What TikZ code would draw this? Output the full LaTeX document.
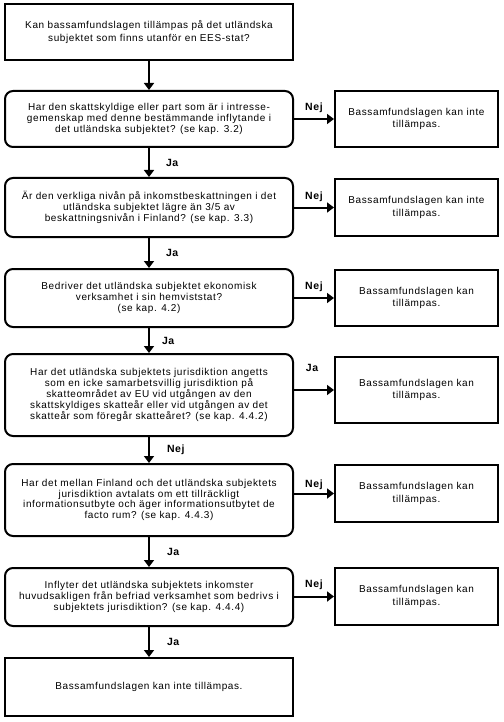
\documentclass[tikz,border=0pt]{standalone}
\usepackage{fontspec}
\setmainfont{Liberation Sans}[LetterSpace=6]
\usetikzlibrary{arrows.meta}
\tikzset{
  box/.style={draw, line width=2pt, minimum width=288pt, align=center, inner sep=0pt,
    font=\fontsize{10}{10.8}\selectfont},
  qbox/.style={box, rounded corners=8pt},
  rbox/.style={box, minimum width=163pt, font=\fontsize{10}{12.8}\selectfont},
  lbl/.style={inner sep=0pt, font=\bfseries\fontsize{10.5}{11}\selectfont},
  arr/.style={line width=2pt, -{Triangle[length=7pt,width=10pt]}}
}
\begin{document}
\begin{tikzpicture}[x=1pt,y=-1pt]
\useasboundingbox (0,0) rectangle (503,722);
\node[box, minimum height=56pt] (b1) at (149,32)
  {Kan bassamfundslagen tillämpas på det utländska\\[3pt]subjektet som finns utanför en EES-stat?};
\node[qbox, minimum height=56pt] (q1) at (149,119)
  {Har den skattskyldige eller part som är i intresse-\\gemenskap med denne bestämmande inflytande i\\det utländska subjektet? (se kap. 3.2)};
\node[rbox, minimum height=56pt] (r1) at (416.5,119)
  {Bassamfundslagen kan inte\\tillämpas.};
\node[qbox, minimum height=59pt] (q2) at (149,207.5)
  {Är den verkliga nivån på inkomstbeskattningen i det\\utländska subjektet lägre än 3/5 av\\beskattningsnivån i Finland? (se kap. 3.3)};
\node[rbox, minimum height=57pt] (r2) at (416.5,207.5)
  {Bassamfundslagen kan inte\\tillämpas.};
\node[qbox, minimum height=58pt] (q3) at (149,298)
  {Bedriver det utländska subjektet ekonomisk\\verksamhet i sin hemviststat?\\(se kap. 4.2)};
\node[rbox, minimum height=56pt] (r3) at (416.5,298)
  {Bassamfundslagen kan\\tillämpas.};
\node[qbox, minimum height=82pt] (q4) at (149,395)
  {Har det utländska subjektets jurisdiktion angetts\\som en icke samarbetsvillig jurisdiktion på\\skatteområdet av EU vid utgången av den\\skattskyldiges skatteår eller vid utgången av det\\skatteår som föregår skatteåret? (se kap. 4.4.2)};
\node[rbox, minimum height=66pt] (r4) at (416.5,390)
  {Bassamfundslagen kan\\tillämpas.};
\node[qbox, minimum height=72pt] (q5) at (149,500)
  {Har det mellan Finland och det utländska subjektets\\jurisdiktion avtalats om ett tillräckligt\\informationsutbyte och äger informationsutbytet de\\facto rum? (se kap. 4.4.3)};
\node[rbox, minimum height=57pt] (r5) at (416.5,493.5)
  {Bassamfundslagen kan\\tillämpas.};
\node[qbox, minimum height=58pt] (q6) at (149,597)
  {Inflyter det utländska subjektets inkomster\\huvudsakligen från befriad verksamhet som bedrivs i\\subjektets jurisdiktion? (se kap. 4.4.4)};
\node[rbox, minimum height=57pt] (r6) at (416.5,596.5)
  {Bassamfundslagen kan\\tillämpas.};
\node[box, minimum height=58pt] (b8) at (149,687)
  {Bassamfundslagen kan inte tillämpas.};

\draw[arr] (b1) -- (q1);
\draw[arr] (q1) -- node[lbl, anchor=west, xshift=16pt] {Ja} (q2);
\draw[arr] (q2) -- node[lbl, anchor=west, xshift=16pt] {Ja} (q3);
\draw[arr] (q3) -- node[lbl, anchor=west, xshift=12pt] {Ja} (q4);
\draw[arr] (q4) -- node[lbl, anchor=west, xshift=17pt] {Nej} (q5);
\draw[arr] (q5) -- node[lbl, anchor=west, xshift=17pt] {Ja} (q6);
\draw[arr] (q6) -- node[lbl, anchor=west, xshift=17pt] {Ja} (b8);

\draw[arr] (q1.east |- r1.west) -- node[lbl, yshift=11pt] {Nej} (r1.west);
\draw[arr] (q2.east |- r2.west) -- node[lbl, yshift=11pt] {Nej} (r2.west);
\draw[arr] (q3.east |- r3.west) -- node[lbl, yshift=11pt] {Nej} (r3.west);
\draw[arr] (q4.east |- r4.west) -- node[lbl, yshift=22pt, xshift=-2pt] {Ja} (r4.west);
\draw[arr] (q5.east |- r5.west) -- node[lbl, yshift=9pt] {Nej} (r5.west);
\draw[arr] (q6.east |- r6.west) -- node[lbl, yshift=12pt] {Nej} (r6.west);
\end{tikzpicture}
\end{document}
